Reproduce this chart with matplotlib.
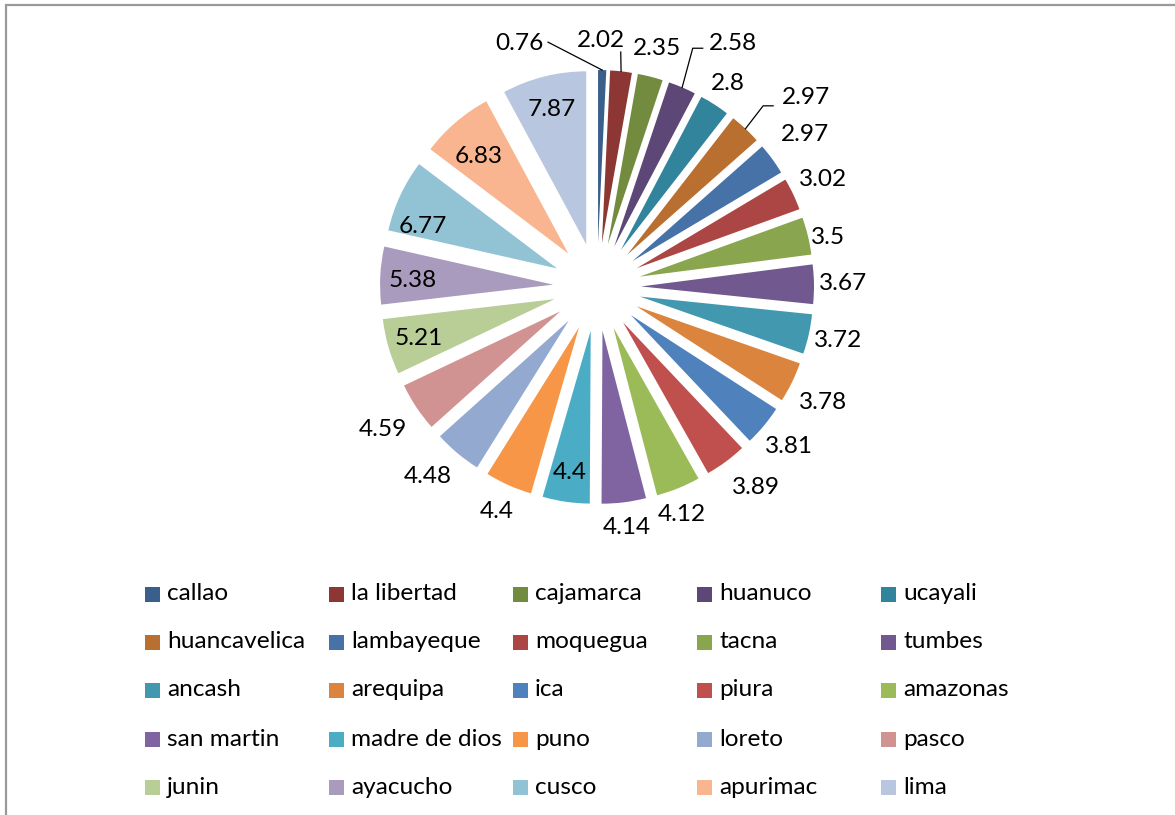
import matplotlib
matplotlib.use("Agg")
import matplotlib.pyplot as plt
from matplotlib.patches import Rectangle
import numpy as np

plt.rcParams["font.family"] = ["Lato", "DejaVu Sans"]

regions = ["callao", "la libertad", "cajamarca", "huanuco", "ucayali",
           "huancavelica", "lambayeque", "moquegua", "tacna", "tumbes",
           "ancash", "arequipa", "ica", "piura", "amazonas",
           "san martin", "madre de dios", "puno", "loreto", "pasco",
           "junin", "ayacucho", "cusco", "apurimac", "lima"]
values = [0.76, 2.02, 2.35, 2.58, 2.8,
          2.97, 2.97, 3.02, 3.5, 3.67,
          3.72, 3.78, 3.81, 3.89, 4.12,
          4.14, 4.4, 4.4, 4.48, 4.59,
          5.21, 5.38, 6.77, 6.83, 7.87]
value_labels = ["0.76", "2.02", "2.35", "2.58", "2.8",
                "2.97", "2.97", "3.02", "3.5", "3.67",
                "3.72", "3.78", "3.81", "3.89", "4.12",
                "4.14", "4.4", "4.4", "4.48", "4.59",
                "5.21", "5.38", "6.77", "6.83", "7.87"]
colors = ["#3A5F8B", "#8D3735", "#728B3F", "#5C4776", "#31849B",
          "#B86F2F", "#4672A8", "#AB4644", "#89A54E", "#71588F",
          "#4198AF", "#DB843D", "#4F81BD", "#C0504D", "#9BBB59",
          "#8064A2", "#4BACC6", "#F79646", "#93A9CF", "#D19392",
          "#B9CD96", "#A99BBD", "#92C3D4", "#F9B590", "#B9C6DF"]

# label placement (style): radius from pie centre (px) and clockwise angle shift (deg)
label_r = [256, 247, 246, 279, 242, 282, 258, 250, 236, 246, 247, 254, 250,
           256, 243, 242, 187, 246, 254, 257, 186, 184, 184, 176, 183]
label_shift = [-19.1, -5.5, 0, 6, 0, 4.7, 0, 0, 1.5, 0, 0, 1, 0,
               -2, 1.6, 0, 0, 0, 1.7, 0, 0, -1, -5.7, -1.5, 0]
# leader lines: offsets (px, y down) relative to label centre
leaders = {0: [(29, -1)], 1: [(20, 12)], 3: [(-40, 5), (-30, 5)], 5: [(-43, 8), (-33, 8)]}

W, H = 1175, 815
fig = plt.figure(figsize=(W / 100, H / 100), dpi=100)
ax = fig.add_axes([0, 0, 1, 1])

cx, cy = 597, H - 287
R = 173
expl = 44
wedges, _ = ax.pie(values, colors=colors, startangle=90, counterclock=False,
                   radius=R, center=(cx, cy), explode=[expl] * len(values),
                   wedgeprops=dict(linewidth=0))
ax.set_xlim(0, W)
ax.set_ylim(0, H)
ax.set_aspect("equal")
ax.axis("off")

FS = 17.6
for i, w in enumerate(wedges):
    tm = np.deg2rad((w.theta1 + w.theta2) / 2)
    tl = tm - np.deg2rad(label_shift[i])
    lx = cx + label_r[i] * np.cos(tl)
    ly = cy + label_r[i] * np.sin(tl)
    ax.text(lx, ly, value_labels[i], ha="center", va="center", fontsize=FS, color="black")
    if i in leaders:
        wx, wy = w.center
        pts = [(wx + R * np.cos(tm), wy + R * np.sin(tm))]
        for dx, dy in leaders[i]:
            pts.append((lx + dx, ly - dy))
        xs, ys = zip(*pts)
        ax.plot(xs, ys, color="black", lw=0.9)

# legend
col_x = [145, 329, 513, 697, 881]
row_y = [594, 642, 690, 739, 787]
for i, name in enumerate(regions):
    x0 = col_x[i % 5]
    y0 = H - row_y[i // 5]
    ax.add_patch(Rectangle((x0, y0 - 7.5), 15, 15, facecolor=colors[i], edgecolor="none"))
    ax.text(x0 + 22, y0, name, ha="left", va="center", fontsize=FS, color="black")

# chart border
ax.plot([6, 6, W], [0, H - 5, H - 5], color="#9A9A9A", lw=1.6, solid_joinstyle="miter")

fig.savefig("out.png", dpi=100)
